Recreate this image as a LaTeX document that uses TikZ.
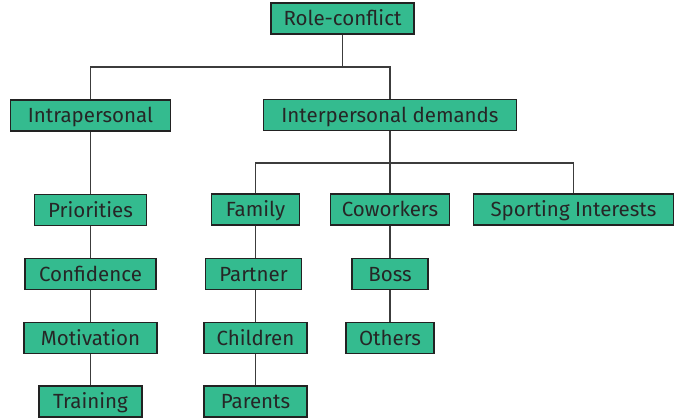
\documentclass[tikz,border=0pt]{standalone}
\usepackage{fontspec}
\setmainfont{Fira Sans}
\definecolor{boxgreen}{RGB}{52,187,143}
\definecolor{boxedge}{RGB}{34,34,34}
\definecolor{boxtext}{RGB}{38,38,38}
\definecolor{linkc}{RGB}{60,60,60}
\begin{document}
\begin{tikzpicture}[x=1pt,y=-1pt,
  box/.style={draw=boxedge, line width=1.2pt, fill=boxgreen, text=boxtext,
    inner sep=0pt, minimum height=31pt, text height=14pt, text depth=0pt,
    font=\fontsize{20.5}{22}\selectfont},
  link/.style={draw=linkc, line width=1.2pt}]
\useasboundingbox (0,0) rectangle (678,418);
% nodes
\node[box, minimum width=143pt] (rc) at (342.5,18.5) {Role-conflict};
\node[box, minimum width=160pt] (intra) at (90.5,115.5) {Intrapersonal};
\node[box, minimum width=253pt] (inter) at (390,115) {Interpersonal demands};
\node[box, minimum width=112pt] (prio) at (90.5,210) {Priorities};
\node[box, minimum width=131pt] (conf) at (90.5,274) {Confidence};
\node[box, minimum width=133pt] (motiv) at (90.5,338) {Motivation};
\node[box, minimum width=103pt] (train) at (90.5,401.5) {Training};
\node[box, minimum width=88pt] (family) at (255.5,209.5) {Family};
\node[box, minimum width=119pt] (cow) at (390,209.5) {Coworkers};
\node[box, minimum width=200pt] (sport) at (573.5,209.5) {Sporting Interests};
\node[box, minimum width=96pt] (partner) at (253.5,274) {Partner};
\node[box, minimum width=103pt] (children) at (255.5,338) {Children};
\node[box, minimum width=103pt] (parents) at (255.5,401.5) {Parents};
\node[box, minimum width=76pt] (boss) at (390,274) {Boss};
\node[box, minimum width=88pt] (others) at (390,338) {Others};
% junctions
\coordinate (j1) at (342.5,67);
\coordinate (j2) at (390,163);
% connectors
\draw[link] (rc.south) -- (j1);
\draw[link] (intra.north) |- (j1) -| (inter.north);
\draw[link] (inter.south) -- (j2);
\draw[link] (family.north) |- (j2) -| (sport.north);
\draw[link] (cow.north) -- (j2);
\draw[link] (intra.south) -- (intra.south |- prio.north);
\draw[link] (prio.south) -- (prio.south |- conf.north);
\draw[link] (conf.south) -- (conf.south |- motiv.north);
\draw[link] (motiv.south) -- (motiv.south |- train.north);
\draw[link] (family.south) -- (family.south |- partner.north);
\draw[link] (partner.south -| family.south) -- (family.south |- children.north);
\draw[link] (children.south) -- (children.south |- parents.north);
\draw[link] (cow.south) -- (cow.south |- boss.north);
\draw[link] (boss.south) -- (boss.south |- others.north);
\end{tikzpicture}
\end{document}
